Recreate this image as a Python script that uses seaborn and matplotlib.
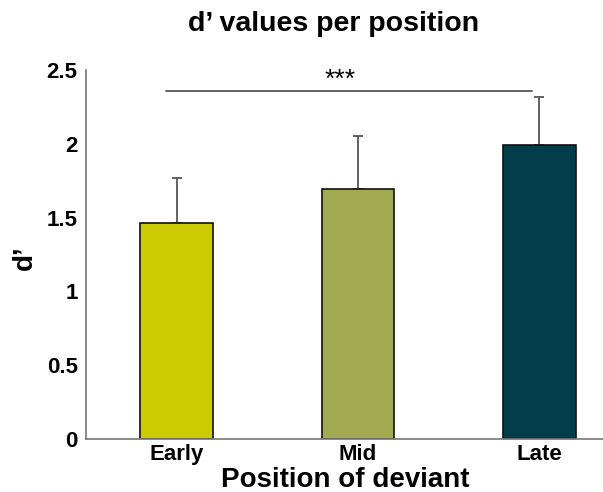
import numpy as np
import pandas as pd
import matplotlib
matplotlib.use("Agg")
import matplotlib.pyplot as plt
import seaborn as sns

# d' per deviant position (mean and upper error)
positions = ["Early", "Mid", "Late"]
dprime = [1.465, 1.695, 1.995]
dprime_err = [0.305, 0.357, 0.320]
bar_colors = ["#CCCA00", "#A1A951", "#033C4A"]
yticks = [0, 0.5, 1, 1.5, 2, 2.5]
ytick_labels = ["0", "0.5", "1", "1.5", "2", "2.5"]
sig_span = (-0.06, 1.96)
sig_level = 2.357
sig_text = "***"

sns.set_style("white")
plt.rcParams["font.family"] = ["Liberation Sans", "DejaVu Sans"]
plt.rcParams["text.color"] = "black"
plt.rcParams["xtick.color"] = "black"
plt.rcParams["ytick.color"] = "black"
plt.rcParams["axes.labelcolor"] = "black"

df = pd.DataFrame({"position": positions, "dprime": dprime})

fig = plt.figure(figsize=(6.03, 4.92), dpi=100)
ax = fig.add_axes([0.1426, 0.1083, 0.902, 0.749])

sns.barplot(data=df, x="position", y="dprime", hue="position",
            palette=bar_colors, saturation=1, legend=False, width=0.4,
            edgecolor="#111111", linewidth=1.2, ax=ax, zorder=2)

xs = np.arange(len(positions))
ax.errorbar(xs, dprime, yerr=[np.zeros(len(dprime)), dprime_err],
            fmt="none", ecolor="#555555", elinewidth=1.3,
            capsize=3.6, capthick=1.3, zorder=1)

ax.plot(sig_span, [sig_level, sig_level], color="#555555", lw=1.3)
ax.text(0.9, 2.384, sig_text, ha="center", va="baseline", fontsize=19)

ax.set_xlim(-0.5, 2.5)
ax.set_ylim(0, 2.5)
ax.set_yticks(yticks)
ax.set_yticklabels(ytick_labels, fontsize=16, fontweight="bold")
ax.set_xticks(xs)
ax.set_xticklabels(positions, fontsize=16, fontweight="bold")
ax.tick_params(axis="y", direction="in", length=4, width=1, color="#777777", pad=6)
ax.tick_params(axis="x", length=0, pad=4)

for side in ["top", "right"]:
    ax.spines[side].set_visible(False)
for side in ["left", "bottom"]:
    ax.spines[side].set_color("#777777")
    ax.spines[side].set_linewidth(1.2)

ax.set_xlabel("Position of deviant", fontsize=20, fontweight="bold")
ax.xaxis.set_label_coords(0.476, -0.077)
ax.set_ylabel("d\u2019", fontsize=20, fontweight="bold")
ax.yaxis.set_label_coords(-0.088, 0.49)
fig.text(0.554, 0.952, "d\u2019 values per position", ha="center", va="center",
         fontsize=20.5, fontweight="bold")

fig.savefig("out.png", dpi=100)
